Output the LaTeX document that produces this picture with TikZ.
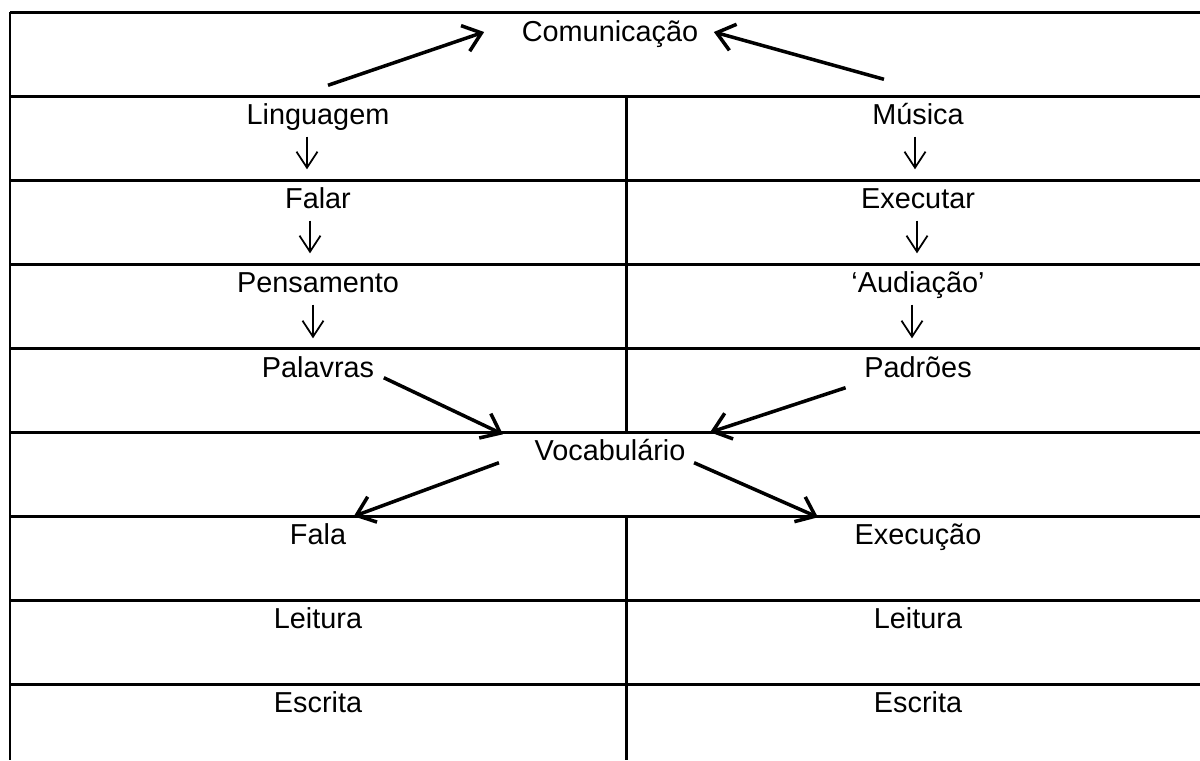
\documentclass[tikz,border=0pt]{standalone}
\usepackage{fontspec}
\setmainfont{Liberation Sans}
\usepackage{tikz}
\usetikzlibrary{arrows.meta,calc}

\begin{document}
\begin{tikzpicture}[x=0.01cm,y=-0.01cm,
	cell/.style={anchor=base,inner sep=0pt,text height=0.2cm,text depth=0.06cm,font=\fontsize{8.2}{9.8}\selectfont},
	grid/.style={line width=0.85pt,black},
	bigarrow/.style={-{Straight Barb[length=0.17cm,width=0.27cm,line width=1pt]},line width=1pt},
	smallarrow/.style={-{Straight Barb[length=0.16cm,width=0.21cm,line width=0.5pt]},line width=0.5pt,shorten <=0.06cm,shorten >=0.18cm}]
	\useasboundingbox (0,0) rectangle (1200,760);
	% table
	\foreach \y in {12,96,...,684}
		\draw[grid] (10,\y) -- (1200,\y);
	\draw[grid] (10,12) -- (10,760);
	\draw[grid] (626,96) -- (626,432);
	\draw[grid] (626,516) -- (626,760);
	% texts
	\node[cell] (com) at (610,41) {Comunicação};
	\node[cell] (ling) at (318,124) {Linguagem};
	\node[cell] (falar) at (318,208) {Falar};
	\node[cell] (pens) at (318,292) {Pensamento};
	\node[cell] (pal) at (318,377) {Palavras};
	\node[cell] (mus) at (918,124) {Música};
	\node[cell] (exe) at (918,208) {Executar};
	\node[cell] (aud) at (918,292) {‘Audiação’};
	\node[cell] (pad) at (918,377) {Padrões};
	\node[cell] (voc) at (610,460) {Vocabulário};
	\node[cell] (fala) at (318,544) {Fala};
	\node[cell] (exec) at (918,544) {Execução};
	\node[cell] (leit1) at (318,628) {Leitura};
	\node[cell] (leit2) at (918,628) {Leitura};
	\node[cell] (escr1) at (318,712) {Escrita};
	\node[cell] (escr2) at (918,712) {Escrita};
	% small arrows
	\draw[smallarrow] ([xshift=-0.11cm]ling.south) -- ([xshift=-0.11cm]ling.south |- falar.north);
	\draw[smallarrow] ([xshift=-0.08cm]falar.south) -- ([xshift=-0.08cm]falar.south |- pens.north);
	\draw[smallarrow] ([xshift=-0.05cm]pens.south) -- ([xshift=-0.05cm]pens.south |- pal.north);
	\draw[smallarrow] ([xshift=-0.03cm]mus.south) -- ([xshift=-0.03cm]mus.south |- exe.north);
	\draw[smallarrow] ([xshift=-0.01cm]exe.south) -- ([xshift=-0.01cm]exe.south |- aud.north);
	\draw[smallarrow] ([xshift=-0.06cm]aud.south) -- ([xshift=-0.06cm]aud.south |- pad.north);
	% big arrows
	\draw[bigarrow] ([shift={(10,-18)}]ling.north) -- ([shift={(-37,-2)}]com.west);
	\draw[bigarrow] ([shift={(-34,-24)}]mus.north) -- ([shift={(15,-2)}]com.east);
	\draw[bigarrow] ([shift={(9,-6)}]pal.south east) -- ([shift={(-31,-5)}]voc.north west);
	\draw[bigarrow] ([shift={(-18,4)}]pad.south west) -- ([shift={(24,-7)}]voc.north east);
	\draw[bigarrow] ([shift={(-35,-4)}]voc.south west) -- ([shift={(7,-7)}]fala.north east);
	\draw[bigarrow] ([shift={(8,-4)}]voc.south east) -- ([shift={(-36,-6)}]exec.north west);
\end{tikzpicture}
\end{document}
